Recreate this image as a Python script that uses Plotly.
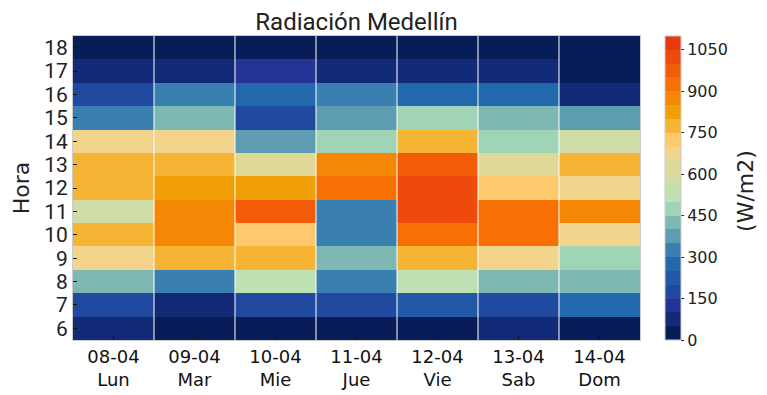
import plotly.graph_objects as go

days = ["08-04", "09-04", "10-04", "11-04", "12-04", "13-04", "14-04"]
weekdays = ["Lun", "Mar", "Mie", "Jue", "Vie", "Sab", "Dom"]
hours = [6, 7, 8, 9, 10, 11, 12, 13, 14, 15, 16, 17, 18]

# radiation (W/m2), per day, hours 6..18
lun = [75, 175, 425, 675, 775, 575, 775, 775, 675, 325, 175, 75, 25]
mar = [25, 75, 325, 775, 875, 875, 825, 775, 675, 425, 325, 75, 25]
mie = [25, 175, 525, 775, 725, 975, 825, 625, 375, 175, 275, 125, 25]
jue = [25, 175, 325, 425, 325, 325, 925, 875, 475, 375, 325, 75, 25]
vie = [25, 225, 525, 775, 925, 1025, 1025, 975, 775, 475, 275, 75, 25]
sab = [75, 175, 425, 675, 925, 925, 725, 625, 475, 425, 275, 75, 25]
dom = [25, 275, 425, 475, 675, 875, 675, 775, 575, 375, 75, 25, 25]

band_colors = ["#081d58", "#132a76", "#253494", "#2249a0", "#2258a6", "#2168ac",
               "#3980b0", "#5e9db1", "#7eb8b2", "#a1d3b6", "#bfe0b3", "#cfdca5",
               "#dfd897", "#f2d48c", "#fdc96c", "#f5b434", "#f0a006", "#f68705",
               "#f77003", "#f25c08", "#ee4a0c", "#e8380f"]
zmin, zmax = 0, 1100
cbar_ticks = list(range(0, 1051, 150))

n = len(band_colors)
colorscale = []
for i, c in enumerate(band_colors):
    colorscale.append([i / n, c])
    colorscale.append([(i + 1) / n, c])

cols = [lun, mar, mie, jue, vie, sab, dom]
z = [[cols[d][h] for d in range(len(days))] for h in range(len(hours))]
xlabels = [f"{d}<br>{w}" for d, w in zip(days, weekdays)]

fig = go.Figure(go.Heatmap(
    z=z, x=list(range(len(days))), y=hours,
    colorscale=colorscale, zmin=zmin, zmax=zmax,
    colorbar=dict(
        thickness=16, len=1, lenmode="fraction", y=0.5, yanchor="middle",
        x=1.044, xanchor="left", xpad=0, ypad=0,
        outlinecolor="#cccccc", outlinewidth=1,
        tickvals=cbar_ticks, ticks="outside", ticklen=3, tickcolor="#222",
        tickfont=dict(family="DejaVu Sans", size=16, color="#222"),
    ),
    hoverongaps=False,
))

fig.add_annotation(text="(W/m2)", xref="paper", yref="paper", x=1.185, y=0.49,
                   xanchor="center", yanchor="middle", textangle=-90, showarrow=False,
                   font=dict(family="DejaVu Sans", size=22, color="#222"))

for i in range(len(days) - 1):
    fig.add_shape(type="line", xref="x", yref="paper", x0=i + 0.5, x1=i + 0.5,
                  y0=0, y1=1, line=dict(color="rgba(255,255,255,0.85)", width=1.2))

fig.update_layout(
    width=759, height=387,
    margin=dict(l=65, r=127, t=28, b=55, autoexpand=False),
    paper_bgcolor="white", plot_bgcolor="white",
    title=dict(text="Radiación Medellín", x=0.5, xref="paper", xanchor="center",
               y=0.986, yanchor="top",
               font=dict(family="Roboto, sans-serif", size=24, color="#222")),
)
fig.update_xaxes(
    tickvals=list(range(len(days))), ticktext=xlabels,
    ticks="inside", ticklen=4, tickcolor="#111", automargin=False,
    tickfont=dict(family="DejaVu Sans", size=18, color="#111"),
    showline=True, mirror=True, linecolor="#cccccc", linewidth=1,
    showgrid=False, zeroline=False, range=[-0.5, len(days) - 0.5],
)
fig.update_yaxes(
    tickvals=hours, ticks="inside", ticklen=4, tickcolor="#111", automargin=False,
    tickfont=dict(family="Roboto, sans-serif", size=21, color="#222"),
    title=dict(text="Hora", standoff=8,
               font=dict(family="DejaVu Sans", size=22, color="#222")),
    showline=True, mirror=True, linecolor="#cccccc", linewidth=1,
    showgrid=False, zeroline=False, range=[hours[0] - 0.5, hours[-1] + 0.5],
)

fig.write_html("out.html")
